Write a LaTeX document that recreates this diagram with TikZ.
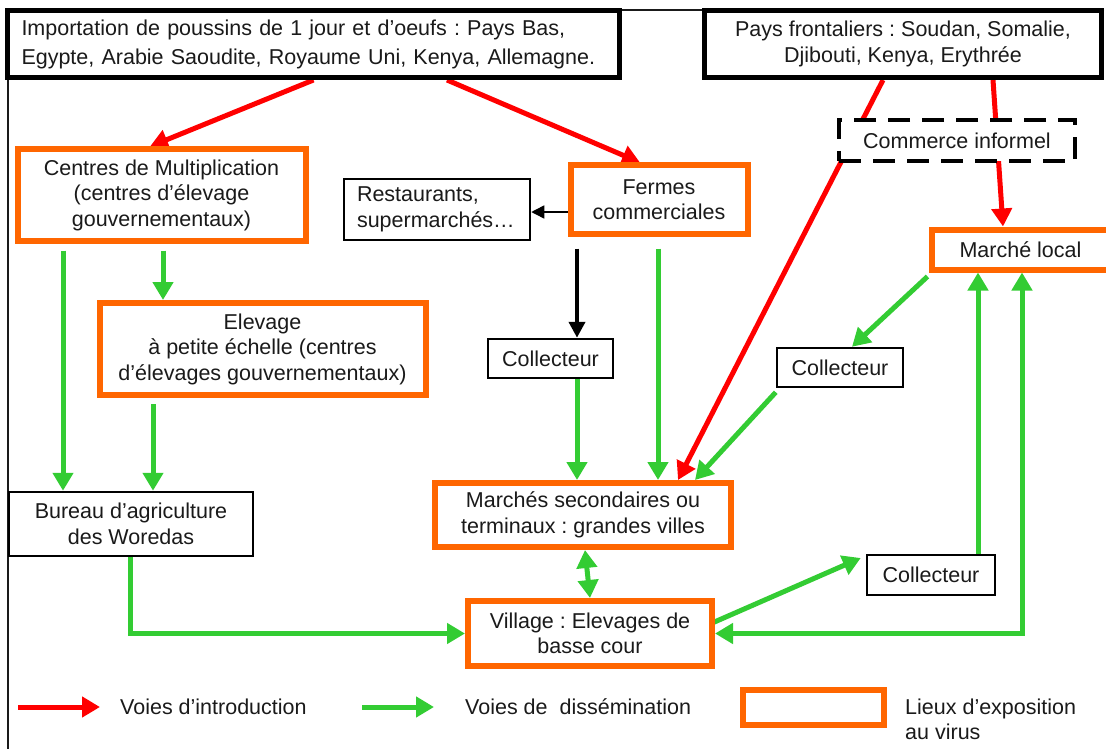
\documentclass[tikz,border=0pt]{standalone}
\usepackage{fontspec}
\setmainfont{Liberation Sans}
\usetikzlibrary{arrows.meta,backgrounds}
\definecolor{expo}{HTML}{FF6600}
\definecolor{dissem}{HTML}{33CC33}
\definecolor{intro}{HTML}{FF0000}
\definecolor{ink}{HTML}{1A1A1A}
\frenchspacing

\begin{document}
\begin{tikzpicture}[x=1pt,y=-1pt,
  font=\fontsize{21.5}{25.5}\selectfont,
  base/.style={rectangle, fill=white, inner sep=0pt, align=center, text=ink},
  expobox/.style={base, draw=expo, line width=6pt},
  heavybox/.style={base, draw=black, line width=5pt},
  plainbox/.style={base, draw=black, line width=2.5pt},
  informal/.style={base, draw=black, line width=4pt, dash pattern=on 22pt off 12pt},
  introarrow/.style={draw=intro, line width=5pt, -{Triangle[length=18pt,width=20pt]}},
  dissemarrow/.style={draw=dissem, line width=5pt, -{Triangle[length=18pt,width=20pt]}},
  dissemboth/.style={draw=dissem, line width=5pt, {Triangle[length=18pt,width=20pt]}-{Triangle[length=18pt,width=20pt]}},
  flowarrow/.style={draw=black, line width=4pt, -{Triangle[length=16pt,width=16pt]}},
  thinarrow/.style={draw=black, line width=1.5pt, -{Triangle[length=13pt,width=13pt]}},
  legendtext/.style={inner sep=0pt, text=ink, align=left}]

\useasboundingbox (0,0) rectangle (1106,749);
\clip (0,0) rectangle (1106,749);

% sources
\node[heavybox, minimum width=612, minimum height=67, text width=584, align=left,
      font=\fontsize{21.5}{29}\selectfont] (imp) at (313.5,44)
  {Importation de poussins de 1 jour et d’oeufs : Pays Bas,\\Egypte, Arabie Saoudite, Royaume Uni, Kenya, Allemagne.};
\node[heavybox, minimum width=397, minimum height=67] (pays) at (903,44)
  {Pays frontaliers : Soudan, Somalie,\\Djibouti, Kenya, Erythrée};
\node[informal, minimum width=236, minimum height=41] (informel) at (957,140.5) {Commerce informel};

% production and trade sites
\node[expobox, minimum width=288, minimum height=91] (centres) at (161.5,195)
  {Centres de Multiplication\\(centres d’élevage\\gouvernementaux)};
\node[plainbox, minimum width=186, minimum height=61, text width=160, align=left] (resto) at (437,209.5)
  {Restaurants,\\supermarchés…};
\node[expobox, minimum width=177, minimum height=68] (fermes) at (659,199.5) {Fermes\\commerciales};
\node[expobox, minimum width=178, minimum height=40] (local) at (1020.5,249.5) {Marché local};
\node[expobox, minimum width=326, minimum height=92] (elevage) at (262.5,349)
  {Elevage\\à petite échelle (centres\\d’élevages gouvernementaux)};
\node[plainbox, minimum width=125, minimum height=39] (colA) at (550.5,358.5) {Collecteur};
\node[plainbox, minimum width=126, minimum height=39] (colB) at (840,367.5) {Collecteur};
\node[plainbox, minimum width=244, minimum height=64] (bureau) at (131,524) {Bureau d’agriculture\\des Woredas};
\node[expobox, minimum width=296, minimum height=64] (marches) at (583,515)
  {Marchés secondaires ou\\terminaux : grandes villes};
\node[expobox, minimum width=244, minimum height=65] (village) at (590,633.5) {Village : Elevages de\\basse cour};
\node[plainbox, minimum width=128, minimum height=40] (colC) at (931,575) {Collecteur};

% legend
\coordinate (redA) at (18,707);
\coordinate (greenA) at (362,707);
\node[legendtext, anchor=west] (lgintro) at (120,707) {Voies d’introduction};
\node[legendtext, anchor=west] (lgdiss) at (465,707) {Voies de\ \ dissémination};
\node[expobox, minimum width=141, minimum height=35] (lgbox) at (813.5,707.5) {};
\node[legendtext, anchor=west] (lgexpo) at (905,719.5) {Lieux d’exposition\\au virus};

\begin{scope}[on background layer]
  % frame
  \draw[ink, line width=1.5pt] (1104,10) -- (8,10) -- (8,749);

  % introduction routes
  \draw[introarrow] (imp.south) -- ([xshift=-11.5pt]centres.north);
  \draw[introarrow] ([xshift=133.5pt]imp.south) -- ([xshift=-19pt]fermes.north);
  \draw[introarrow] ([xshift=-20pt]pays.south) -- ([xshift=95pt]marches.north);
  \draw[introarrow] ([xshift=90pt]pays.south) -- ([xshift=-17.5pt]local.north);

  % dissemination routes
  \draw[dissemarrow] ([xshift=-98.5pt,yshift=-7pt]centres.south) -- ([xshift=-68pt]bureau.north);
  \draw[dissemarrow] ([xshift=1.5pt,yshift=-7pt]centres.south) -- ([xshift=-99.5pt]elevage.north);
  \draw[dissemarrow] ([xshift=-109.5pt,yshift=-6pt]elevage.south) -- ([xshift=22pt]bureau.north);
  \draw[dissemarrow] ([xshift=-1pt]bureau.south) |- (village.west);
  \draw[flowarrow] ([xshift=-82pt,yshift=-12pt]fermes.south) -- ([xshift=26.5pt]colA.north);
  \draw[dissemarrow] ([xshift=26.5pt]colA.south) -- ([xshift=-6pt]marches.north);
  \draw[dissemarrow] ([xshift=-1pt,yshift=-12pt]fermes.south) -- ([xshift=75pt]marches.north);
  \draw[dissemarrow] ([yshift=-4pt]colB.south west) -- ([xshift=112pt]marches.north);
  \draw[dissemarrow] ([xshift=-1pt,yshift=-4pt]local.south west) -- ([xshift=12pt]colB.north);
  \draw[dissemboth] ([xshift=2pt]marches.south) -- (village.north);
  \draw[dissemarrow] ([xshift=-4pt,yshift=10pt]village.east) -- ([xshift=-5pt,yshift=17pt]colC.west);
  \draw[dissemarrow] ([xshift=47pt]colC.north) -- ([xshift=-42.5pt]local.south);
  \draw[dissemboth] (village.east) -| ([xshift=1.5pt]local.south);
  \draw[thinarrow] ([yshift=-12.5pt]fermes.west) -- ([yshift=-2.5pt]resto.east);

  % legend arrows
  \draw[introarrow] (redA) -- ([xshift=-20pt]lgintro.west);
  \draw[dissemarrow] (greenA) -- ([xshift=-31pt]lgdiss.west);
\end{scope}
\end{tikzpicture}
\end{document}
